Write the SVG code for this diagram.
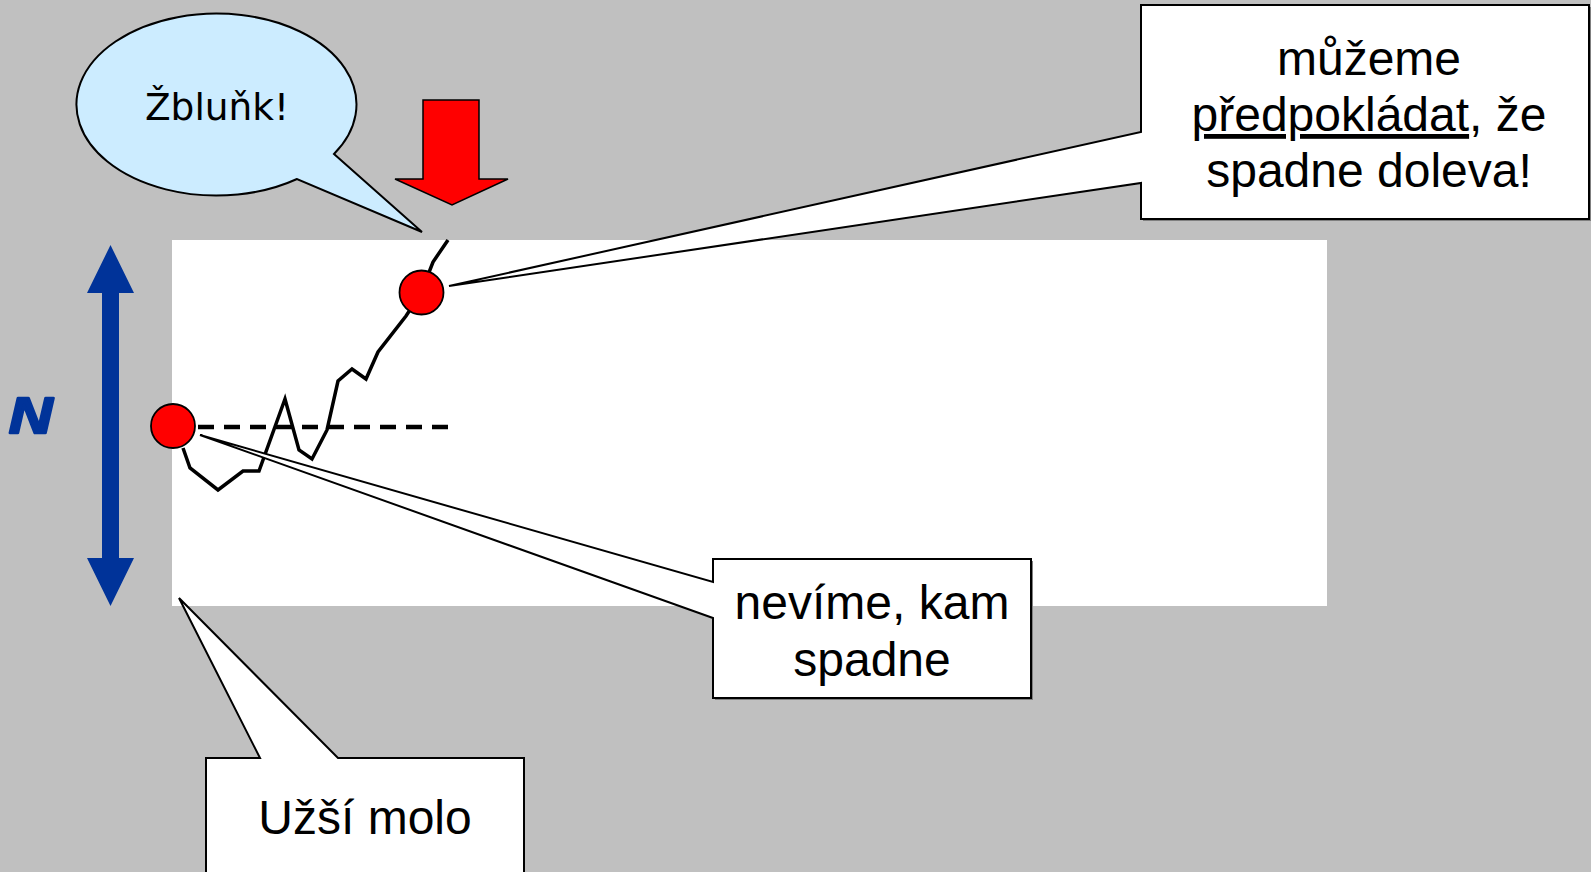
<svg xmlns="http://www.w3.org/2000/svg" width="1591" height="872" viewBox="0 0 1591 872">
<defs>
<style>
.bg{fill:#C0C0C0}
.call{fill:#FFFFFF;stroke:#000000;stroke-width:2;stroke-linejoin:miter}
.shadow{fill:#808080}
.t{font-family:"Liberation Sans",Arial,sans-serif;font-size:48px;fill:#000000;text-anchor:middle}
.dot{fill:#FF0000;stroke:#000000;stroke-width:1.8}
</style>
</defs>
<rect class="bg" x="0" y="0" width="1591" height="872"/>
<g id="pier">
<rect x="172" y="240" width="1155" height="366" fill="#FFFFFF"/>
</g>
<g id="axis-n">
<polygon points="110.5,245 134,293 119,293 119,558 134,558 110.5,606 87,558 102,558 102,293 87,293" fill="#003399"/>
<text x="0" y="0" transform="translate(9,433) scale(1.2,1)" font-family="'Liberation Sans',Arial,sans-serif" font-size="50" font-weight="bold" font-style="italic" fill="#003399" stroke="#003399" stroke-width="2.5" stroke-linejoin="round">N</text>
</g>
<g id="path">
<polyline points="183,448 190,468 218,490 243,471 259,471 285,399 299,450 312,459 327,430 338,381 352,369 366,379 378,352 406,316 421,293 433,262 448,240" fill="none" stroke="#000000" stroke-width="3.5" stroke-linejoin="miter"/>
<line x1="198" y1="427" x2="448" y2="427" stroke="#000000" stroke-width="4.5" stroke-dasharray="16 10"/>
</g>
<g id="down-arrow">
<polygon points="423,100 479,100 479,179 508,179 452,205 395,179 423,179" fill="#FF0000" stroke="#000000" stroke-width="1.5"/>
</g>
<g id="connectors">
</g>
<g id="splash">
<path d="M334,154 L422,232 L297,179 A140,91 0 1 1 334,154 Z" fill="#CCECFF" stroke="#000000" stroke-width="2"/>
<text x="217" y="120" font-family="'DejaVu Sans',Verdana,sans-serif" font-size="37.5" text-anchor="middle" fill="#000000">Žbluňk!</text>
</g>
<g id="dot-start">
<circle class="dot" cx="173" cy="426" r="22"/>
</g>
<g id="dot-upper">
<circle class="dot" cx="421.5" cy="292.5" r="22"/>
</g>
<g id="note-left">
<rect class="shadow" x="1143" y="7" width="448" height="214"/>
<path class="call" d="M1141,5 H1589 V219 H1141 V183 L449,286 L1141,132 Z"/>
<text class="t" x="1369" y="75">můžeme</text>
<text class="t" x="1369" y="131"><tspan text-decoration="underline">předpokládat</tspan>, že</text>
<text class="t" x="1369" y="187">spadne doleva!</text>
</g>
<g id="note-unknown">
<rect class="shadow" x="715" y="561" width="318" height="139"/>
<path class="call" d="M713,559 H1031 V698 H713 V618 L200,435 L713,582 Z"/>
<text class="t" x="872" y="619">nevíme, kam</text>
<text class="t" x="872" y="676">spadne</text>
</g>
<g id="note-pier">
<path class="call" d="M206,758 H260 L179,598 L338,758 H524 V880 H206 Z"/>
<text class="t" x="365" y="834">Užší molo</text>
</g>
</svg>
